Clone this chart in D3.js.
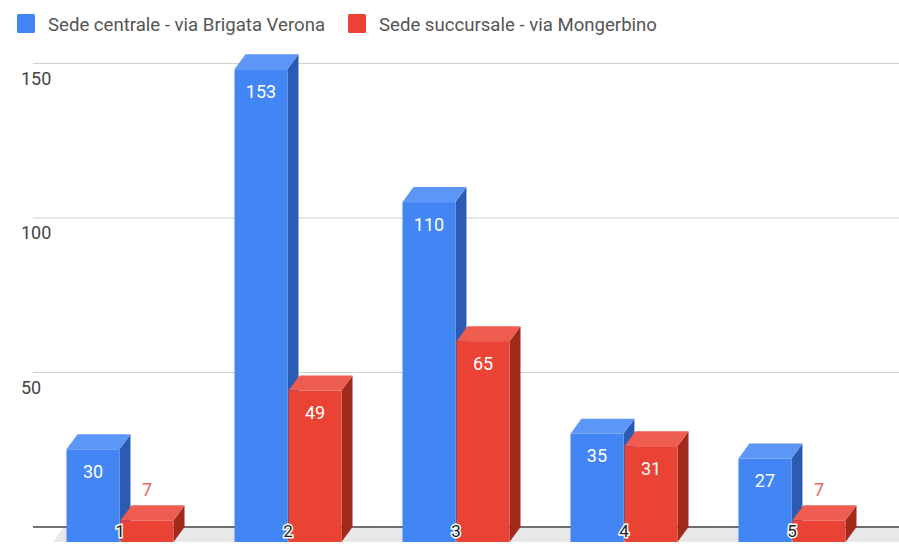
<!DOCTYPE html>
<html>
<head>
<meta charset="utf-8">
<script src="https://cdn.jsdelivr.net/npm/d3@7"></script>
<style>
  html, body { margin: 0; padding: 0; background: #fff; }
  svg { display: block; font-family: Roboto, "Noto Sans", Arial, sans-serif; }
</style>
</head>
<body>
<svg id="chart" width="899" height="544"></svg>
<script>
// Data
const categories = ["1", "2", "3", "4", "5"];
const seriesNames = ["Sede centrale - via Brigata Verona", "Sede succursale - via Mongerbino"];
const centrale = [30, 153, 110, 35, 27];
const succursale = [7, 49, 65, 31, 7];
const yTicks = [50, 100, 150];

// Styles per series: front, top, side faces and outside-label colour
const palettes = [
  { front: "#4285f4", top: "#5c96f6", side: "#2b5bb2", label: "#5c96f6" },
  { front: "#ea4335", top: "#ee5d4f", side: "#a12a1d", label: "#e0685c" }
];

const svg = d3.select("#chart");
const W = 899;

// 3D depth offset between the front plane and the back wall
const dx = 11, dy = 15;

// Value scale on the back wall (gridlines); the front plane is shifted down by dy
const yBack = d3.scaleLinear().domain([0, 150]).range([527, 63.5]);
const yFront = v => yBack(v) + dy;

// Category scale on the front plane
const x0 = d3.scaleBand().domain(categories).range([22, 890])
  .paddingInner(0.363).paddingOuter(0.265);
const x1 = d3.scaleBand().domain([0, 1]).range([0, x0.bandwidth()]).paddingInner(0.02);

// Gridlines on the back wall
const grid = svg.append("g");
grid.selectAll("line").data(yTicks).join("line")
  .attr("x1", 33).attr("x2", W)
  .attr("y1", d => yBack(d)).attr("y2", d => yBack(d))
  .attr("stroke", "#d0d0d0").attr("stroke-width", 1.2);

// Floor
const floor = svg.append("g");
floor.append("path")
  .attr("d", `M64,${yBack(0)} L${W},${yBack(0)} L${W},${yFront(0)} L${64 - dx},${yFront(0)} Z`)
  .attr("fill", "#e8e8e8");
floor.append("line")
  .attr("x1", 33).attr("x2", W)
  .attr("y1", yBack(0)).attr("y2", yBack(0))
  .attr("stroke", "#444").attr("stroke-width", 1.6);

// Y axis labels, on the front plane
svg.append("g").selectAll("text").data(yTicks).join("text")
  .attr("x", 21).attr("y", d => yFront(d))
  .attr("dy", "0.36em")
  .attr("font-size", 18).attr("fill", "#444")
  .text(d => d);

// Bars
const values = [centrale, succursale];
const bars = svg.append("g");
categories.forEach((c, i) => {
  values.forEach((vals, s) => {
    const v = vals[i];
    const p = palettes[s];
    const xl = x0(c) + x1(s);
    const w = x1.bandwidth();
    const yt = yFront(v), yb = yFront(0);
    const g = bars.append("g");
    g.append("path")
      .attr("d", `M${xl + w},${yt} L${xl + w + dx},${yt - dy} L${xl + w + dx},${yb - dy} L${xl + w},${yb} Z`)
      .attr("fill", p.side);
    g.append("path")
      .attr("d", `M${xl},${yt} L${xl + dx},${yt - dy} L${xl + w + dx},${yt - dy} L${xl + w},${yt} Z`)
      .attr("fill", p.top);
    g.append("rect")
      .attr("x", xl).attr("y", yt).attr("width", w).attr("height", yb - yt)
      .attr("fill", p.front);
    const inside = (yb - yt) > 40;
    g.append("text")
      .attr("x", xl + w / 2)
      .attr("y", inside ? yt + 22 : yt - dy - 16)
      .attr("dy", "0.36em")
      .attr("text-anchor", "middle")
      .attr("font-size", 18)
      .attr("fill", inside ? "#ffffff" : p.label)
      .text(v);
  });
});

// Category labels with white halo
svg.append("g").selectAll("text").data(categories).join("text")
  .attr("x", d => x0(d) + x0.bandwidth() / 2)
  .attr("y", 531)
  .attr("dy", "0.36em")
  .attr("text-anchor", "middle")
  .attr("font-size", 17)
  .attr("fill", "#222")
  .attr("stroke", "#fff").attr("stroke-width", 3)
  .attr("paint-order", "stroke")
  .text(d => d);

// Legend
const legendX = [17, 348];
const legend = svg.append("g");
seriesNames.forEach((name, s) => {
  legend.append("rect")
    .attr("x", legendX[s]).attr("y", 14).attr("width", 18).attr("height", 19)
    .attr("rx", 1.5).attr("fill", palettes[s].front);
  legend.append("text")
    .attr("x", legendX[s] + 31).attr("y", 24)
    .attr("dy", "0.36em")
    .attr("font-size", 18.6).attr("fill", "#555")
    .text(name);
});
</script>
</body>
</html>
